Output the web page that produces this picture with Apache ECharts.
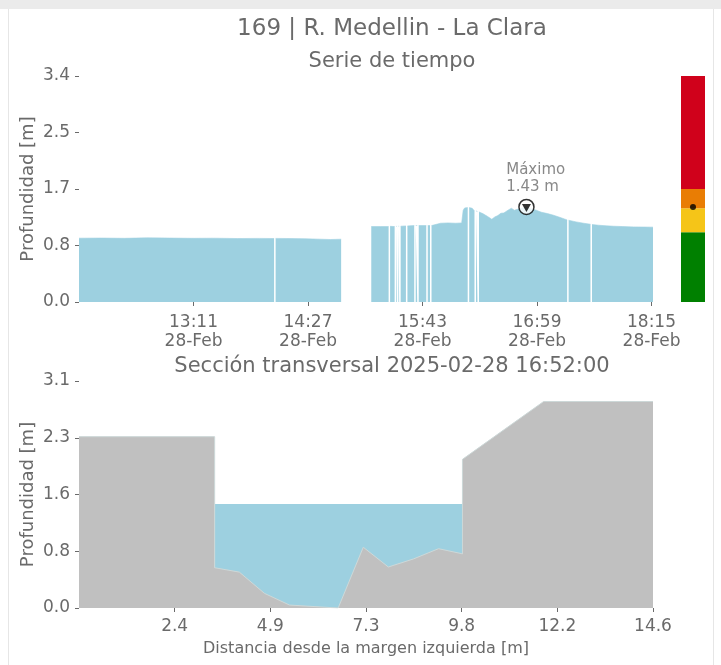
<!DOCTYPE html>
<html>
<head>
<meta charset="utf-8">
<script src="https://cdn.jsdelivr.net/npm/echarts@6/dist/echarts.min.js"></script>
<style>
  html, body { margin: 0; padding: 0; background: #fff; }
  #wrap { position: relative; width: 721px; height: 665px; overflow: hidden; }
  #chart { position: absolute; left: 0; top: 0; width: 721px; height: 665px; }
  .band { position: absolute; left: 0; top: 0; width: 721px; height: 9px; background: #ebebeb; }
  .vl { position: absolute; top: 9px; width: 1px; height: 656px; background: #e6e6e6; }
</style>
</head>
<body>
<div id="wrap">
  <div id="chart"></div>
  <div class="band"></div>
  <div class="vl" style="left:8px"></div>
  <div class="vl" style="left:713px"></div>
</div>
<script>
// ---------- data ----------
const stationTitle = '169 | R. Medellin - La Clara';
const seriesTitle = 'Serie de tiempo';
const sectionTitle = 'Sección transversal 2025-02-28 16:52:00';
const yName = 'Profundidad [m]';
const xSectionName = 'Distancia desde la margen izquierda [m]';

// time series (HH:MM:SS, depth m); null = missing reading
const obsTimes = [
  '11:55:00','12:10:00','12:25:00','12:40:00','12:55:00','13:10:00','13:25:00','13:40:00','13:55:00',
  '14:04:30','14:05:00','14:05:30','14:15:00','14:25:00','14:35:00','14:42:00','14:49:00','15:00:00',
  '15:09:00','15:15:00','15:20:30','15:21:00','15:21:30','15:24:30','15:25:00','15:25:30','15:26:00',
  '15:26:30','15:27:00','15:27:30','15:28:00','15:28:30','15:32:00','15:32:30','15:33:00','15:37:30',
  '15:38:00','15:38:30','15:39:30','15:40:00','15:40:30','15:45:30','15:46:00','15:46:30','15:48:00',
  '15:48:30','15:49:00','15:50:00','15:55:00','16:00:00','16:05:00','16:09:00','16:10:00','16:11:00',
  '16:13:00','16:13:30','16:14:00','16:16:00','16:17:30','16:18:00','16:18:30','16:19:30','16:20:00',
  '16:20:30','16:23:00','16:26:00','16:29:00','16:31:00','16:33:00','16:35:00','16:37:00','16:40:00',
  '16:42:00','16:44:00','16:46:00','16:49:00','16:52:00','16:55:00','16:58:00','17:02:00','17:06:00',
  '17:10:00','17:14:00','17:19:00','17:19:30','17:20:00','17:25:00','17:30:00','17:34:30','17:35:00',
  '17:35:30','17:40:00','17:45:00','17:50:00','17:56:00','18:03:00','18:10:00','18:16:00'
];
const obsDepth = [
  0.960,0.962,0.958,0.965,0.962,0.958,0.960,0.955,0.957,
  0.955,null,0.957,0.955,0.952,0.945,0.940,0.945,null,
  1.135,1.135,1.135,null,1.138,1.135,null,1.135,1.140,
  null,1.140,1.140,null,1.140,1.145,null,1.145,1.150,
  null,1.150,1.150,null,1.150,1.150,null,1.150,1.150,
  null,1.150,1.180,1.185,1.190,1.185,1.190,1.380,1.415,
  1.420,null,1.420,1.410,1.370,null,1.370,1.360,null,
  1.355,1.330,1.290,1.245,1.280,1.300,1.335,1.340,1.385,
  1.410,1.380,1.395,1.410,1.430,1.400,1.385,1.350,1.330,
  1.305,1.275,1.235,null,1.230,1.205,1.185,1.170,null,
  1.165,1.155,1.146,1.140,1.135,1.130,1.128,1.126
];
const timeStart = '11:55:00';
const timeEnd = '18:16:00';
const timeTicks = ['13:11','14:27','15:43','16:59','18:15'];
const dateLabel = '28-Feb';
const maxTime = '16:52:00';
const maxDepth = 1.43;

const yTopTicks = [0, 0.85, 1.7, 2.55, 3.4];
const yTopLabels = ['0.0','0.8','1.7','2.5','3.4'];

// alert bar (boundaries in m) and current level
const alertBounds = [0, 1.05, 1.41, 1.70, 3.4];
const alertColors = ['#008000', '#f5c518', '#e97d04', '#d0011b'];
const currentLevel = 1.43;

// cross-section
const secDist = [0, 3.46, 3.46, 4.09, 4.73, 5.37, 6.61, 7.25, 7.89, 8.53, 9.17, 9.78, 9.78, 11.85, 14.64];
const secGround = [2.34, 2.34, 0.55, 0.49, 0.20, 0.04, 0.0, 0.83, 0.56, 0.67, 0.81, 0.74, 2.03, 2.82, 2.82];
const waterLevel = 1.42;
const waterFrom = 3.46, waterTo = 9.78;
const xSecTicks = [2.44, 4.88, 7.32, 9.76, 12.2, 14.64];
const xSecLabels = ['2.4','4.9','7.3','9.8','12.2','14.6'];
const xSecMax = 14.64;
const ySecTicks = [0, 0.775, 1.55, 2.325, 3.1];
const ySecLabels = ['0.0','0.8','1.6','2.3','3.1'];

// ---------- helpers ----------
function toMin(s) { const p = s.split(':').map(Number); return p[0]*60 + p[1] + (p[2]||0)/60; }
function lookup(vals, labels) {
  return function (v) {
    let best = 0, d = Infinity;
    vals.forEach((x, i) => { const e = Math.abs(x - v); if (e < d) { d = e; best = i; } });
    return labels[best];
  };
}

const FONT = 'DejaVu Sans';
const GRAY = '#6a6a6a';
const WATER = '#9dd0e0';
const GROUND = '#c0c0c0';

const tsData = obsTimes.map((t, i) => [toMin(t), obsDepth[i]]);
const tickMins = timeTicks.map(toMin);

const tickStyle = { show: true, length: 4, lineStyle: { color: GRAY, width: 1 } };
const labelBase = { color: GRAY, fontFamily: FONT, fontSize: 17 };

const alertSeries = alertColors.map((c, i) => ({
  type: 'bar', xAxisIndex: 1, yAxisIndex: 1, stack: 'alert', barWidth: '100%',
  itemStyle: { color: c }, data: [alertBounds[i+1] - alertBounds[i]], z: 2, silent: true
}));

const chart = echarts.init(document.getElementById('chart'), null, { renderer: 'canvas' });
chart.setOption({
  animation: false,
  textStyle: { fontFamily: FONT },
  graphic: [
    { type: 'text', x: 392, y: 29, style: { text: stationTitle, fill: GRAY, font: '23px "DejaVu Sans"', align: 'center', verticalAlign: 'middle' } },
    { type: 'text', x: 392, y: 62, style: { text: seriesTitle, fill: GRAY, font: '21px "DejaVu Sans"', align: 'center', verticalAlign: 'middle' } },
    { type: 'text', x: 392, y: 367, style: { text: sectionTitle, fill: GRAY, font: '21px "DejaVu Sans"', align: 'center', verticalAlign: 'middle' } }
  ],
  grid: [
    { left: 79, top: 76, width: 574, height: 226 },
    { left: 681, top: 76, width: 24, height: 226 },
    { left: 79, top: 381, width: 574, height: 227 }
  ],
  xAxis: [
    { type: 'value', gridIndex: 0, min: toMin(timeStart), max: toMin(timeEnd),
      axisLine: { show: false }, splitLine: { show: false },
      axisTick: Object.assign({ customValues: tickMins }, tickStyle),
      axisLabel: Object.assign({ customValues: tickMins, margin: 11, lineHeight: 19,
        formatter: v => lookup(tickMins, timeTicks)(v) + '\n' + dateLabel }, labelBase) },
    { type: 'category', gridIndex: 1, data: ['nivel'], show: false },
    { type: 'value', gridIndex: 2, min: 0, max: xSecMax,
      axisLine: { show: false }, splitLine: { show: false },
      axisTick: Object.assign({ customValues: xSecTicks }, tickStyle),
      axisLabel: Object.assign({ customValues: xSecTicks, margin: 10, formatter: lookup(xSecTicks, xSecLabels) }, labelBase),
      name: xSectionName, nameLocation: 'middle', nameGap: 33, nameMoveOverlap: false,
      nameTextStyle: { color: GRAY, fontFamily: FONT, fontSize: 16 } }
  ],
  yAxis: [
    { type: 'value', gridIndex: 0, min: 0, max: 3.4,
      axisLine: { show: false }, splitLine: { show: false },
      axisTick: Object.assign({ customValues: yTopTicks }, tickStyle),
      axisLabel: Object.assign({ customValues: yTopTicks, margin: 9, formatter: lookup(yTopTicks, yTopLabels) }, labelBase),
      name: yName, nameLocation: 'middle', nameGap: 42, nameMoveOverlap: false,
      nameTextStyle: { color: GRAY, fontFamily: FONT, fontSize: 18 } },
    { type: 'value', gridIndex: 1, min: 0, max: 3.4, show: false },
    { type: 'value', gridIndex: 2, min: 0, max: 3.1,
      axisLine: { show: false }, splitLine: { show: false },
      axisTick: Object.assign({ customValues: ySecTicks }, tickStyle),
      axisLabel: Object.assign({ customValues: ySecTicks, margin: 9, formatter: lookup(ySecTicks, ySecLabels) }, labelBase),
      name: yName, nameLocation: 'middle', nameGap: 42, nameMoveOverlap: false,
      nameTextStyle: { color: GRAY, fontFamily: FONT, fontSize: 18 } }
  ],
  series: [
    { type: 'line', xAxisIndex: 0, yAxisIndex: 0, data: tsData, showSymbol: false,
      connectNulls: false, lineStyle: { width: 0.6, color: WATER }, areaStyle: { color: WATER, opacity: 1 }, z: 2, silent: true },
    { type: 'scatter', xAxisIndex: 0, yAxisIndex: 0, data: [[toMin(maxTime), maxDepth]],
      symbol: 'circle', symbolSize: 15, z: 5,
      itemStyle: { color: '#ffffff', borderColor: '#000000', borderWidth: 1.5 },
      label: { show: true, formatter: 'Máximo\n' + maxDepth.toFixed(2) + ' m', position: [-12, -37],
        align: 'left', verticalAlign: 'top', color: GRAY, fontFamily: FONT, fontSize: 15, lineHeight: 17 } },
    { type: 'scatter', xAxisIndex: 0, yAxisIndex: 0, data: [[toMin(maxTime), maxDepth]],
      symbol: 'triangle', symbolRotate: 180, symbolSize: [9, 8], symbolOffset: [0, 1], z: 6,
      itemStyle: { color: '#000000' } },
    ...alertSeries,
    { type: 'scatter', xAxisIndex: 1, yAxisIndex: 1, data: [['nivel', currentLevel]],
      symbol: 'circle', symbolSize: 6, itemStyle: { color: '#000000' }, z: 5 },
    { type: 'line', xAxisIndex: 2, yAxisIndex: 2, data: [[waterFrom, waterLevel], [waterTo, waterLevel]],
      showSymbol: false, lineStyle: { width: 0 }, areaStyle: { color: WATER, opacity: 1 }, z: 2, silent: true },
    { type: 'line', xAxisIndex: 2, yAxisIndex: 2, data: secDist.map((d, i) => [d, secGround[i]]),
      showSymbol: false, lineStyle: { width: 1, color: '#cdd8d8' }, areaStyle: { color: GROUND, opacity: 1 }, z: 3, silent: true }
  ]
});
</script>
</body>
</html>
